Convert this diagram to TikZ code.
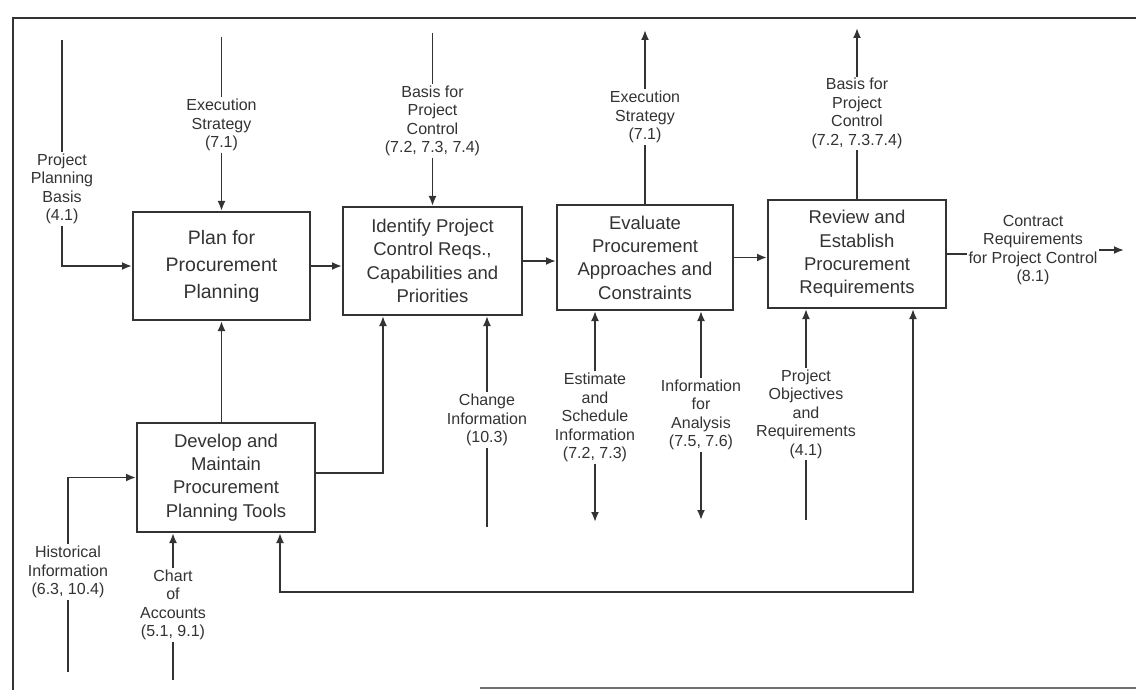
\documentclass[tikz,border=0pt]{standalone}
\usepackage{fontspec}
\setmainfont{Liberation Sans}
\usetikzlibrary{arrows.meta,calc}
\definecolor{ink}{HTML}{333333}
\begin{document}
\begin{tikzpicture}[x=1pt,y=-1pt,
  proc/.style={draw=ink, line width=2pt, inner sep=0pt, align=center, text=ink,
    font=\fontsize{18.5}{23.3}\selectfont},
  lab/.style={align=center, inner sep=1.5pt, text=ink, font=\fontsize{16}{18.5}\selectfont},
  ln/.style={draw=ink, line width=1.9pt},
  arr/.style={ln, -{Latex[length=10pt,width=8pt]}},
  arrb/.style={ln, {Latex[length=10pt,width=8pt]}-{Latex[length=10pt,width=8pt]}}
]
\fill[white] (0,0) rectangle (1136,690);
\useasboundingbox (0,0) rectangle (1136,690);

% frame
\coordinate (fBL) at (13,690);
\coordinate (fTL) at (13,18);
\coordinate (fTR) at (1136,18);
\coordinate (fB1) at (480,688);
\coordinate (fB2) at (1136,688);
\draw[ln] (fBL) -- (fTL) -- (fTR);
\draw[ln, draw=ink!70] (fB1) -- (fB2);

% process boxes
\node[proc, minimum width=177pt, minimum height=108pt,
  font=\fontsize{19.5}{27}\selectfont] (plan) at (221.5,266) {Plan for\\Procurement\\Planning};
\node[proc, minimum width=179pt, minimum height=108pt] (ident) at (432.5,261) {Identify Project\\Control Reqs.,\\Capabilities and\\Priorities};
\node[proc, minimum width=176pt, minimum height=105pt] (eval) at (645,257.5) {Evaluate\\Procurement\\Approaches and\\Constraints};
\node[proc, minimum width=178pt, minimum height=108pt] (review) at (857,254) {Review and\\Establish\\Procurement\\Requirements};
\node[proc, minimum width=178pt, minimum height=109pt] (develop) at (226,477.5) {Develop and\\Maintain\\Procurement\\Planning Tools};

% box to box
\draw[arr] (plan.east) -- (plan.east -| ident.west);
\draw[arr] (ident.east) -- (ident.east -| eval.west);
\draw[arr] (eval.east) -- (eval.east -| review.west);
\draw[arr] (develop.north -| plan.south) -- (plan.south);
\coordinate (d2i) at (383,473);
\draw[arr] (develop.east |- d2i) -- (d2i) -- (d2i |- ident.south);
\coordinate (fbR) at (913,592);
\coordinate (fbL) at (280,592);
\draw[arrb] (review.south -| fbR) -- (fbR) -- (fbL) -- (develop.south -| fbL);

% Project Planning Basis
\node[lab] (ppb) at (62,189) {Project\\Planning\\Basis\\(4.1)};
\coordinate (ppbTop) at (62,40);
\draw[ln] (ppbTop) -- (ppb.north);
\draw[arr] (ppb.south) |- (plan.west);

% Execution Strategy in
\node[lab] (ex1) at (221.5,125) {Execution\\Strategy\\(7.1)};
\coordinate (ex1Top) at (221.5,37);
\draw[ln] (ex1Top) -- (ex1.north);
\draw[arr] (ex1.south) -- (ex1.south |- plan.north);

% Basis for Project Control in
\node[lab] (bas1) at (432.5,121) {Basis for\\Project\\Control\\(7.2, 7.3, 7.4)};
\coordinate (bas1Top) at (432.5,33);
\draw[ln] (bas1Top) -- (bas1.north);
\draw[arr] (bas1.south) -- (bas1.south |- ident.north);

% Execution Strategy out
\node[lab] (ex2) at (645,117) {Execution\\Strategy\\(7.1)};
\coordinate (ex2Top) at (645,30);
\draw[ln] (ex2.south |- eval.north) -- (ex2.south);
\draw[arr] (ex2.north) -- (ex2Top);

% Basis for Project Control out
\node[lab] (bas2) at (857,113.5) {Basis for\\Project\\Control\\(7.2, 7.3.7.4)};
\coordinate (bas2Top) at (857,28);
\draw[ln] (bas2.south |- review.north) -- (bas2.south);
\draw[arr] (bas2.north) -- (bas2Top);

% Contract Requirements
\node[lab] (crq) at (1033,250) {Contract\\Requirements\\for Project Control\\(8.1)};
\coordinate (crqEnd) at (1124,250);
\draw[ln] (review.east) -- (review.east -| crq.west);
\draw[arr] (crq.east |- crqEnd) -- (crqEnd);

% Change Information
\node[lab] (chg) at (487,420) {Change\\Information\\(10.3)};
\coordinate (chgBot) at (487,527);
\draw[ln] (chgBot) -- (chg.south);
\draw[arr] (chg.north) -- (chg.north |- ident.south);

% Estimate and Schedule Information
\node[lab] (est) at (595,417.5) {Estimate\\and\\Schedule\\Information\\(7.2, 7.3)};
\coordinate (estBot) at (595,522);
\draw[arr] (est.north) -- (est.north |- eval.south);
\draw[arr] (est.south) -- (estBot);

% Information for Analysis
\node[lab] (inf) at (701,415) {Information\\for\\Analysis\\(7.5, 7.6)};
\coordinate (infBot) at (701,520);
\draw[arr] (inf.north) -- (inf.north |- eval.south);
\draw[arr] (inf.south) -- (infBot);

% Project Objectives and Requirements
\node[lab] (obj) at (806,414) {Project\\Objectives\\and\\Requirements\\(4.1)};
\coordinate (objBot) at (806,520);
\draw[ln] (objBot) -- (obj.south);
\draw[arr] (obj.north) -- (obj.north |- review.south);

% Historical Information
\node[lab] (hist) at (68,572) {Historical\\Information\\(6.3, 10.4)};
\coordinate (histBot) at (68,672);
\draw[ln] (histBot) -- (hist.south);
\draw[arr] (hist.north) |- (develop.west);

% Chart of Accounts
\node[lab] (coa) at (173,605) {Chart\\of\\Accounts\\(5.1, 9.1)};
\coordinate (coaBot) at (173,680);
\draw[ln] (coaBot) -- (coa.south);
\draw[arr] (coa.north) -- (coa.north |- develop.south);
\end{tikzpicture}
\end{document}
